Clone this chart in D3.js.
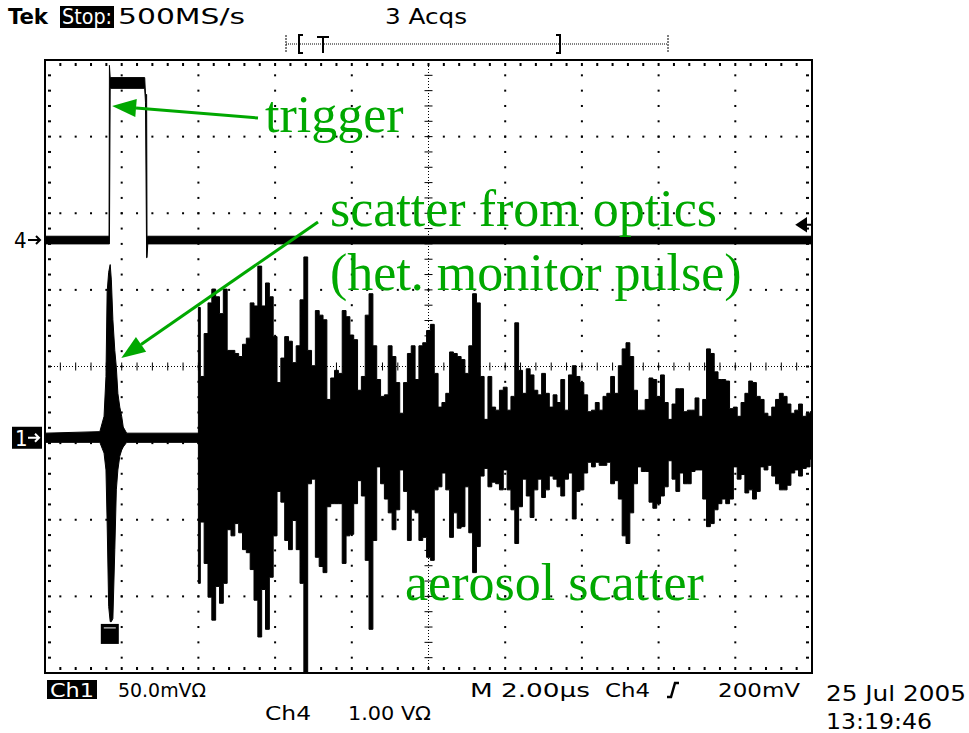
<!DOCTYPE html>
<html>
<head>
<meta charset="utf-8">
<script src="https://cdn.jsdelivr.net/npm/d3@7"></script>
<style>
body { margin: 0; background: #fff; }
.scope { font-family: "Liberation Sans Narrow", "DejaVu Sans Condensed", "Liberation Sans", sans-serif; fill: #000; }
.note { font-family: "Liberation Serif", "Times New Roman", serif; fill: #00a800; font-size: 52px; }
</style>
</head>
<body>
<div id="chart"></div>
<script>
// ---- data ----
// ch1: 50 mV/div, time 2.00 us/div, values in mV relative to the ch1 marker
var preT  = [0.00, 1.43, 1.54, 1.59, 1.62, 1.66, 1.70, 1.73, 1.77, 1.82, 1.86, 1.90, 1.95, 2.00, 2.04, 2.13, 4.00];
var preHi = [3, 4, 14, 40, 95, 108, 113, 103, 77, 57, 46, 29, 20, 14, 7, 3, 3];
var preLo = [-3, -3, -10, -21, -55, -110, -120, -120, -118, -73, -34, -21, -12, -8, -6, -3, -3];

// aerosol scatter envelope, sampled every 0.1 us from 4.0 us
var scatterStart = 4.0, scatterStep = 0.1;
var scatterHi = [
  85, 40, 68, 88, 97, 92, 81, 97, 57, 57,
  55, 53, 61, 65, 88, 86, 112, 86, 101, 92,
  66, 36, 52, 66, 63, 49, 60, 90, 118, 57,
  47, 83, 80, 77, 25, 39, 44, 42, 83, 79,
  67, 64, 31, 40, 80, 94, 60, 38, 27, 28,
  60, 53, 36, 16, 36, 55, 60, 38, 60, 62,
  70, 74, 42, 20, 23, 29, 56, 55, 53, 51,
  42, 60, 94, 88, 40, 12, 40, 20, 18, 31,
  33, 18, 27, 75, 44, 29, 45, 41, 31, 28,
  42, 29, 20, 28, 23, 38, 18, 41, 47, 40,
  36, 28, 17, 18, 23, 18, 27, 29, 40, 29,
  47, 58, 62, 53, 31, 18, 18, 25, 39, 38,
  27, 41, 23, 12, 22, 32, 32, 17, 18, 18,
  26, 14, 25, 58, 55, 43, 38, 38, 37, 19,
  20, 14, 23, 29, 37, 36, 27, 25, 16, 14,
  20, 25, 29, 27, 22, 16, 18, 22, 14, 16, 17];
var scatterLo = [
  -95, -55, -82, -104, -119, -97, -108, -95, -60, -64,
  -56, -62, -73, -75, -86, -106, -130, -99, -125, -91,
  -64, -35, -42, -67, -73, -54, -73, -95, -153, -30,
  -27, -78, -84, -88, -45, -43, -43, -43, -82, -64,
  -63, -43, -28, -38, -80, -125, -67, -19, -30, -40,
  -49, -60, -47, -21, -35, -67, -47, -49, -67, -65,
  -78, -80, -34, -32, -23, -34, -65, -49, -59, -58,
  -32, -62, -88, -71, -25, -20, -32, -29, -30, -34,
  -21, -34, -47, -69, -45, -27, -38, -52, -34, -27,
  -39, -34, -25, -27, -32, -38, -27, -23, -53, -35,
  -34, -23, -16, -19, -16, -18, -18, -16, -30, -28,
  -40, -64, -69, -49, -30, -19, -22, -22, -42, -46,
  -43, -38, -32, -15, -27, -35, -23, -30, -30, -22,
  -21, -21, -40, -58, -56, -47, -43, -40, -43, -40,
  -19, -27, -24, -36, -34, -40, -35, -19, -21, -18,
  -25, -30, -34, -34, -31, -23, -21, -25, -20, -19, -14];

// ch4 (trigger): 1.00 V/div, values in V
var ch4T  = [0, 1.67, 1.68, 1.70, 2.60, 2.62, 2.65, 2.66, 2.68, 20];
var ch4Hi = [0.05, 0.05, 2.28, 2.12, 2.12, 1.90, 1.90, 0.05, 0.05, 0.05];
var ch4Lo = [-0.05, -0.05, -0.05, 1.98, 1.98, 1.80, -0.23, -0.23, -0.05, -0.05];

var ch1Pos = -0.93, ch4Pos = 1.65;   // channel offsets in divisions
var trigLevel = 0.2;                 // V on ch4
var clipMark = {t: 1.69, v: -128};   // over-range marker on ch1

var headerTexts = ["Tek", "Stop:", "500MS/s", "3 Acqs"];
var footerTexts = ["Ch1", "50.0mVΩ", "M 2.00µs", "Ch4", "200mV", "Ch4", "1.00 VΩ", "25 Jul 2005", "13:19:46"];
var notes = ["trigger", "scatter from optics", "(het. monitor pulse)", "aerosol scatter"];

// ---- layout ----
var W = 969, H = 733;
var gL = 45, gR = 812, gT = 60, gB = 673;
var green = "#00a800";

var svg = d3.select("#chart").append("svg")
    .attr("width", W)
    .attr("height", H);

var x = d3.scaleLinear().domain([0, 20]).range([gL, gR]);
var y1 = d3.scaleLinear().domain([(-4 - ch1Pos) * 50, (4 - ch1Pos) * 50]).range([gB, gT]);
var y4 = d3.scaleLinear().domain([-4 - ch4Pos, 4 - ch4Pos]).range([gB, gT]);

var dx = (gR - gL) / 10, dy = (gB - gT) / 8;

// ---- graticule ----
var grid = svg.append("g");
for (var i = 1; i < 10; i++) {
    if (i == 5) continue;
    for (var j = 1; j < 40; j++) {
        grid.append("rect").attr("x", gL + i * dx - 1).attr("y", gT + j * dy / 5 - 1)
            .attr("width", 2).attr("height", 2).attr("fill", "#000");
    }
}
for (var i = 1; i < 8; i++) {
    if (i == 4) continue;
    for (var j = 1; j < 50; j++) {
        grid.append("rect").attr("x", gL + j * dx / 5 - 1).attr("y", gT + i * dy - 1)
            .attr("width", 2).attr("height", 2).attr("fill", "#000");
    }
}
// centre cross
var cx = gL + 5 * dx, cy = gT + 4 * dy;
grid.append("line").attr("x1", cx).attr("x2", cx).attr("y1", gT).attr("y2", gB)
    .attr("stroke", "#000").attr("stroke-width", 1).attr("stroke-dasharray", "1,2");
grid.append("line").attr("x1", gL).attr("x2", gR).attr("y1", cy).attr("y2", cy)
    .attr("stroke", "#000").attr("stroke-width", 1).attr("stroke-dasharray", "1,2");
for (var j = 1; j < 50; j++) {
    grid.append("line").attr("x1", gL + j * dx / 5).attr("x2", gL + j * dx / 5)
        .attr("y1", cy - 4).attr("y2", cy + 4).attr("stroke", "#000").attr("stroke-width", 1);
}
for (var j = 1; j < 40; j++) {
    grid.append("line").attr("y1", gT + j * dy / 5).attr("y2", gT + j * dy / 5)
        .attr("x1", cx - 4).attr("x2", cx + 4).attr("stroke", "#000").attr("stroke-width", 1);
}
// ticks inside the border
for (var j = 1; j < 50; j++) {
    var tx = gL + j * dx / 5;
    grid.append("rect").attr("x", tx - 1).attr("y", gT + 3).attr("width", 2).attr("height", 3).attr("fill", "#000");
    grid.append("rect").attr("x", tx - 1).attr("y", gB - 6).attr("width", 2).attr("height", 3).attr("fill", "#000");
}
for (var j = 1; j < 40; j++) {
    var ty = gT + j * dy / 5;
    grid.append("rect").attr("x", gL + 3).attr("y", ty - 1).attr("width", 3).attr("height", 2).attr("fill", "#000");
    grid.append("rect").attr("x", gR - 6).attr("y", ty - 1).attr("width", 3).attr("height", 2).attr("fill", "#000");
}
grid.append("rect").attr("x", gL).attr("y", gT)
    .attr("width", gR - gL).attr("height", gB - gT)
    .attr("fill", "none").attr("stroke", "#000").attr("stroke-width", 2);

// ---- traces ----
svg.append("clipPath").attr("id", "clip").append("rect")
    .attr("x", gL).attr("y", gT).attr("width", gR - gL).attr("height", gB - gT);
var traces = svg.append("g").attr("clip-path", "url(#clip)");

var ch1Pre = preT.map((t, i) => ({t: t, hi: preHi[i], lo: preLo[i]}));
var ch1Scatter = scatterHi.map((v, i) => ({t: scatterStart + i * scatterStep, hi: v, lo: scatterLo[i]}));
var ch4 = ch4T.map((t, i) => ({t: t, hi: ch4Hi[i], lo: ch4Lo[i]}));

traces.append("path")
    .datum(ch4)
    .attr("d", d3.area().x(d => x(d.t)).y0(d => y4(d.lo)).y1(d => y4(d.hi)))
    .attr("fill", "#000").attr("stroke", "#000").attr("stroke-width", 1);

// quiet part + monitor pulse
traces.append("path")
    .datum(ch1Pre)
    .attr("d", d3.area().x(d => x(d.t)).y0(d => y1(d.lo)).y1(d => y1(d.hi)))
    .attr("fill", "#000").attr("stroke", "#000").attr("stroke-width", 1);

// scope draws min/max columns, so the scatter envelope is stepped
traces.append("path")
    .datum(ch1Scatter)
    .attr("d", d3.area().curve(d3.curveStep)
        .x(d => x(d.t)).y0(d => y1(d.lo)).y1(d => y1(d.hi)))
    .attr("fill", "#000").attr("stroke", "#000").attr("stroke-width", 1);

traces.append("rect")
    .attr("x", x(clipMark.t) - 9).attr("y", y1(clipMark.v) - 10)
    .attr("width", 18).attr("height", 20).attr("fill", "#000");
traces.append("line")
    .attr("x1", x(clipMark.t) - 6).attr("x2", x(clipMark.t) + 6)
    .attr("y1", y1(clipMark.v) - 6).attr("y2", y1(clipMark.v) - 6)
    .attr("stroke", "#fff").attr("stroke-width", 1);

// trigger level marker on the right
var ty4 = y4(trigLevel);
svg.append("path")
    .attr("d", "M" + (gR - 15) + "," + ty4 + "l9,-6v12z M" + (gR - 8) + "," + ty4 + "h8")
    .attr("fill", "#000").attr("stroke", "#000").attr("stroke-width", 2);

// channel markers on the left
svg.append("text").attr("class", "scope").attr("x", 14).attr("y", y4(0) + 8)
    .attr("font-size", 22).text("4");
svg.append("path").attr("d", "M28," + y4(0) + "h12 m-4,-4 l4,4 l-4,4")
    .attr("fill", "none").attr("stroke", "#000").attr("stroke-width", 2);
svg.append("rect").attr("x", 12).attr("y", y1(0) - 11).attr("width", 30).attr("height", 22).attr("fill", "#000");
svg.append("text").attr("class", "scope").attr("x", 15).attr("y", y1(0) + 8)
    .attr("font-size", 22).style("fill", "#fff").text("1");
svg.append("path").attr("d", "M28," + y1(0) + "h11 m-4,-4 l4,4 l-4,4")
    .attr("fill", "none").attr("stroke", "#fff").attr("stroke-width", 2);

// ---- header ----
svg.append("text").attr("class", "scope").attr("x", 8).attr("y", 24)
    .attr("font-size", 21).attr("font-weight", "bold")
    .attr("textLength", 40).attr("lengthAdjust", "spacingAndGlyphs").text(headerTexts[0]);
svg.append("rect").attr("x", 60).attr("y", 6).attr("width", 54).attr("height", 22).attr("fill", "#000");
svg.append("text").attr("class", "scope").attr("x", 62).attr("y", 24)
    .attr("font-size", 21).style("fill", "#fff")
    .attr("textLength", 50).attr("lengthAdjust", "spacingAndGlyphs").text(headerTexts[1]);
svg.append("text").attr("class", "scope").attr("x", 118).attr("y", 24)
    .attr("font-size", 21).attr("textLength", 127).attr("lengthAdjust", "spacingAndGlyphs").text(headerTexts[2]);
svg.append("text").attr("class", "scope").attr("x", 385).attr("y", 24)
    .attr("font-size", 21).attr("textLength", 82).attr("lengthAdjust", "spacingAndGlyphs").text(headerTexts[3]);

// record window bar
svg.append("line").attr("x1", 286).attr("x2", 668).attr("y1", 44).attr("y2", 44)
    .attr("stroke", "#000").attr("stroke-width", 1).attr("stroke-dasharray", "1,1");
[286, 668].forEach(function (bx) {
    svg.append("line").attr("x1", bx).attr("x2", bx).attr("y1", 35).attr("y2", 53)
        .attr("stroke", "#000").attr("stroke-width", 1).attr("stroke-dasharray", "2,1");
});
svg.append("path").attr("d", "M303,35h-4v18h4").attr("fill", "none").attr("stroke", "#000").attr("stroke-width", 2);
svg.append("path").attr("d", "M556,35h4v18h-4").attr("fill", "none").attr("stroke", "#000").attr("stroke-width", 2);
svg.append("path").attr("d", "M317,37h12M323,37v16").attr("fill", "none").attr("stroke", "#000").attr("stroke-width", 2);

// ---- footer ----
svg.append("rect").attr("x", 47).attr("y", 680).attr("width", 50).attr("height", 19).attr("fill", "#000");
var foot = [
    {t: footerTexts[0], x: 50, y: 697, w: 44, fill: "#fff"},
    {t: footerTexts[1], x: 118, y: 697, w: 88},
    {t: footerTexts[2], x: 470, y: 697, w: 120},
    {t: footerTexts[3], x: 605, y: 697, w: 45},
    {t: footerTexts[4], x: 718, y: 697, w: 82},
    {t: footerTexts[5], x: 265, y: 720, w: 46},
    {t: footerTexts[6], x: 348, y: 720, w: 83}
];
foot.forEach(function (f) {
    svg.append("text").attr("class", "scope").attr("x", f.x).attr("y", f.y)
        .attr("font-size", 20).style("fill", f.fill || "#000")
        .attr("textLength", f.w).attr("lengthAdjust", "spacingAndGlyphs").text(f.t);
});
// rising edge symbol
svg.append("path").attr("d", "M667,697h4l4,-14h4").attr("fill", "none").attr("stroke", "#000").attr("stroke-width", 2.5);
svg.append("text").attr("class", "scope").attr("x", 826).attr("y", 701)
    .attr("font-size", 22).attr("textLength", 140).attr("lengthAdjust", "spacingAndGlyphs").text(footerTexts[7]);
svg.append("text").attr("class", "scope").attr("x", 826).attr("y", 729)
    .attr("font-size", 22).attr("textLength", 106).attr("lengthAdjust", "spacingAndGlyphs").text(footerTexts[8]);

// ---- annotations ----
function arrow(x1, y1a, x2, y2a) {
    var a = Math.atan2(y2a - y1a, x2 - x1), L = 24, Wd = 9;
    var bx = x2 - L * Math.cos(a), by = y2a - L * Math.sin(a);
    svg.append("line").attr("x1", x1).attr("y1", y1a).attr("x2", bx).attr("y2", by)
        .attr("stroke", green).attr("stroke-width", 3);
    svg.append("path")
        .attr("d", "M" + x2 + "," + y2a +
            "L" + (bx + Wd * Math.sin(a)) + "," + (by - Wd * Math.cos(a)) +
            "L" + (bx - Wd * Math.sin(a)) + "," + (by + Wd * Math.cos(a)) + "Z")
        .attr("fill", green);
}
arrow(258, 118, x(1.75), y4(1.75));
arrow(318, 222, x(1.99), y1(52));

svg.append("text").attr("class", "note").attr("x", 265).attr("y", 132).text(notes[0]);
svg.append("text").attr("class", "note").attr("x", 330).attr("y", 226).text(notes[1]);
svg.append("text").attr("class", "note").attr("x", 330).attr("y", 290).text(notes[2]);
svg.append("text").attr("class", "note").attr("x", 405).attr("y", 600).text(notes[3]);
</script>
</body>
</html>
